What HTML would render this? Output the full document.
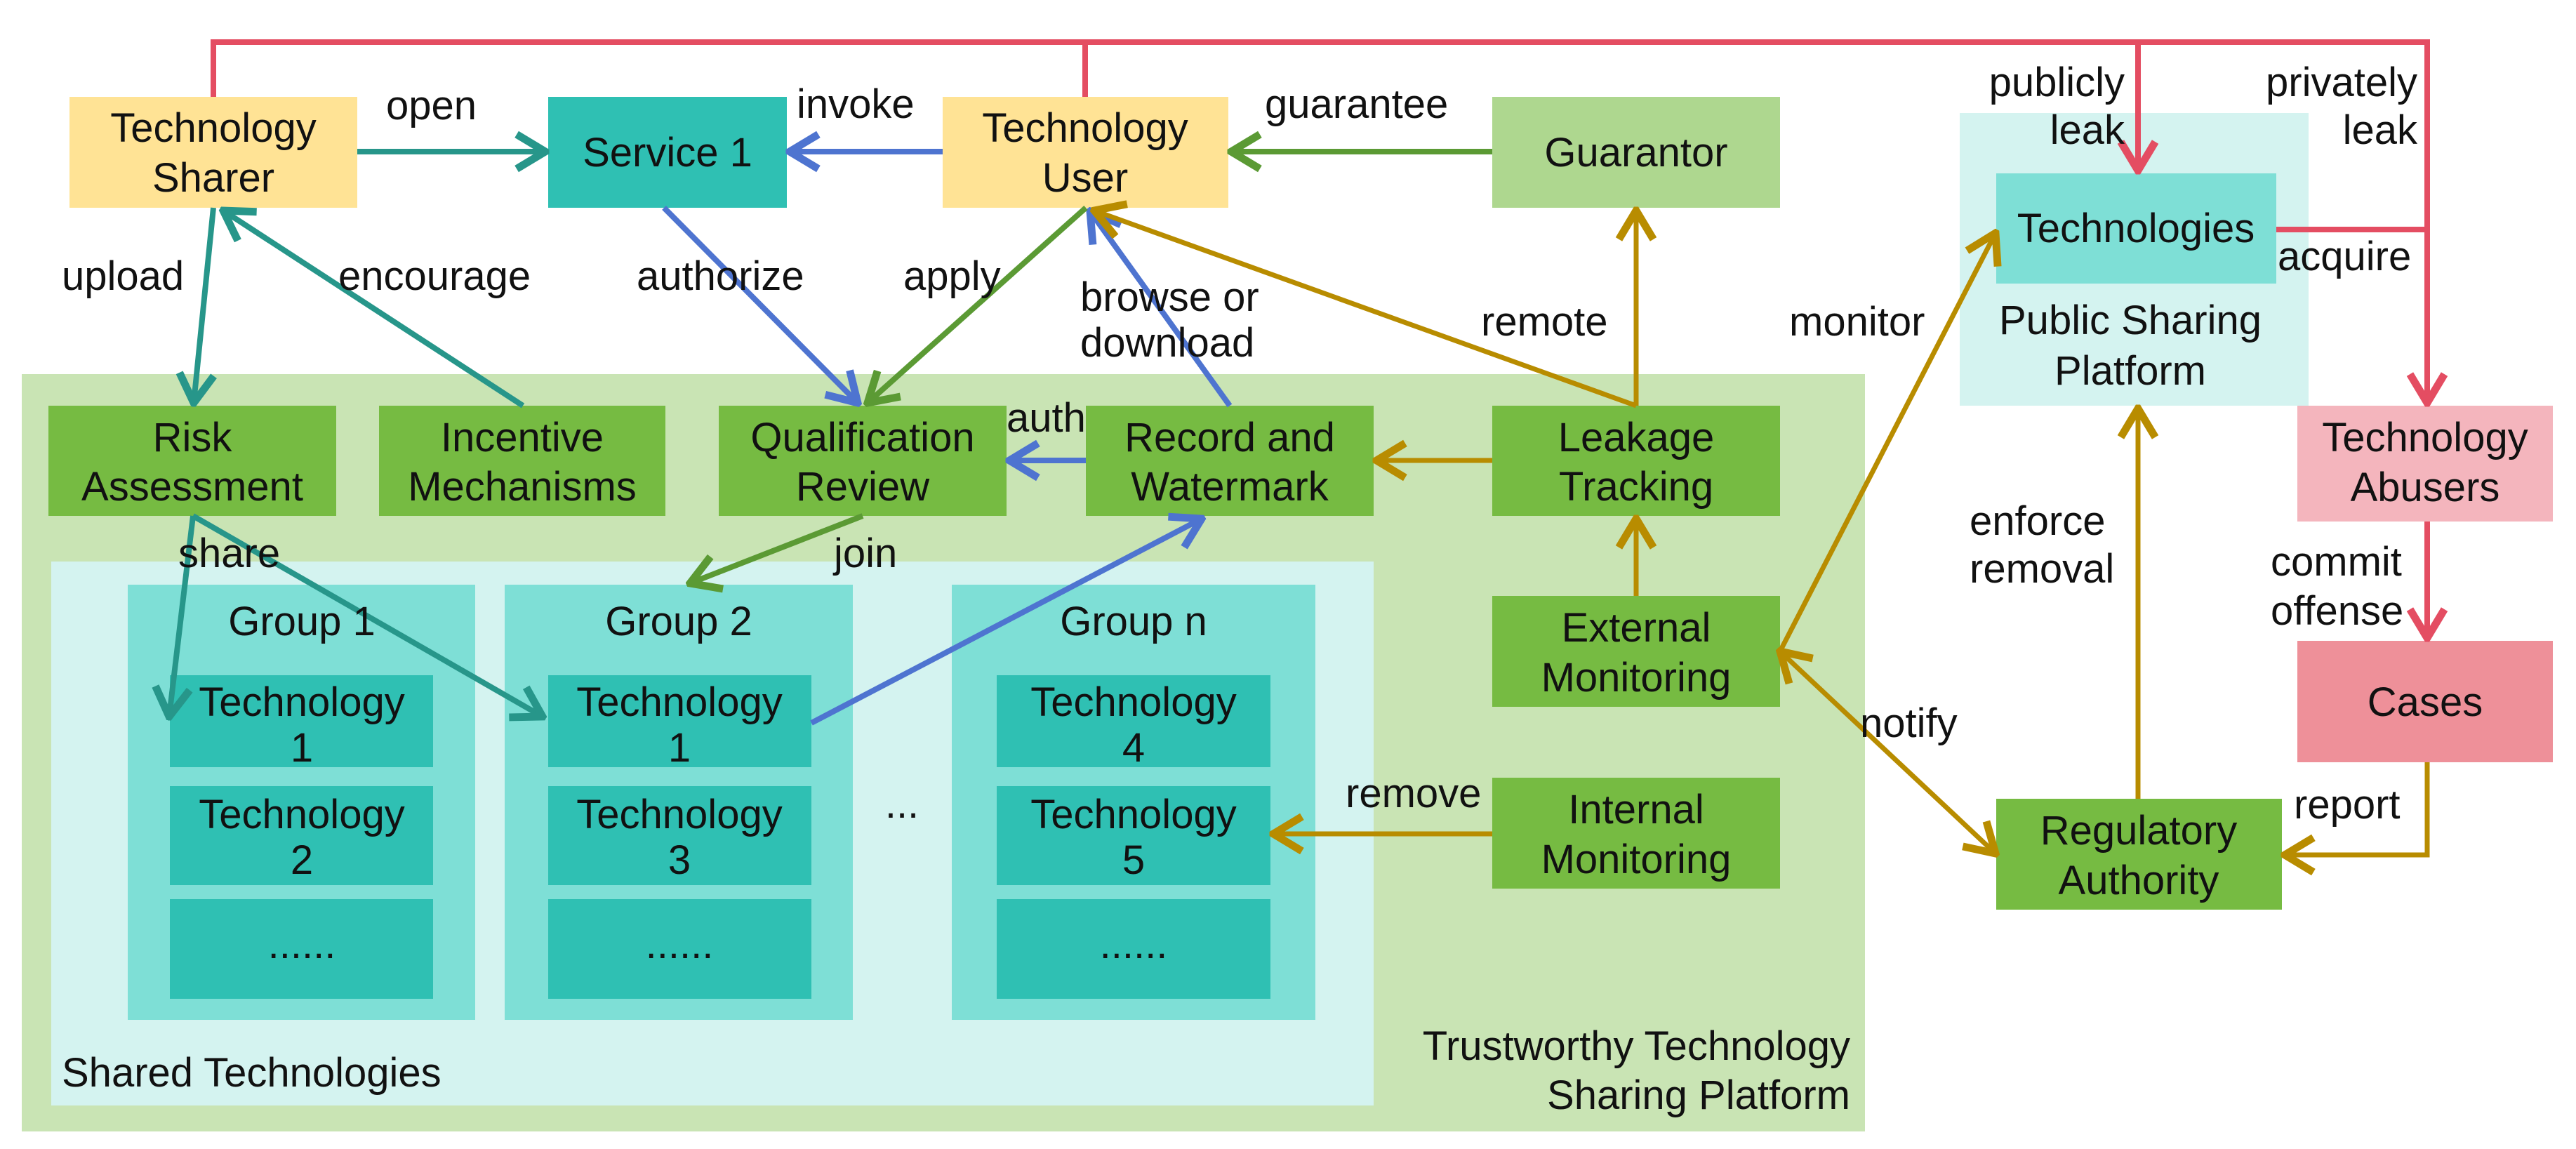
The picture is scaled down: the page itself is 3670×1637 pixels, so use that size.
<!DOCTYPE html>
<html><head><meta charset="utf-8"><style>
html,body{margin:0;padding:0;background:#fff;}
svg{display:block;}
text{font-family:"Liberation Sans",sans-serif;font-size:58px;fill:#111;}
.c{text-anchor:middle;}
.r{text-anchor:end;}
</style></head><body>
<svg width="3670" height="1637" viewBox="0 0 3670 1637" xmlns="http://www.w3.org/2000/svg">
<defs>
<marker id="aT" markerUnits="userSpaceOnUse" markerWidth="60" markerHeight="60" refX="40" refY="20" orient="auto-start-reverse" viewBox="0 0 44 40"><path d="M10,2 L40,20 L10,38" fill="none" stroke="#27968a" stroke-width="8"/></marker>
<marker id="aB" markerUnits="userSpaceOnUse" markerWidth="60" markerHeight="60" refX="40" refY="20" orient="auto-start-reverse" viewBox="0 0 44 40"><path d="M10,2 L40,20 L10,38" fill="none" stroke="#4e74d0" stroke-width="8"/></marker>
<marker id="aG" markerUnits="userSpaceOnUse" markerWidth="60" markerHeight="60" refX="40" refY="20" orient="auto-start-reverse" viewBox="0 0 44 40"><path d="M10,2 L40,20 L10,38" fill="none" stroke="#5b9a34" stroke-width="8"/></marker>
<marker id="aY" markerUnits="userSpaceOnUse" markerWidth="60" markerHeight="60" refX="40" refY="20" orient="auto-start-reverse" viewBox="0 0 44 40"><path d="M10,2 L40,20 L10,38" fill="none" stroke="#b88c00" stroke-width="8"/></marker>
<marker id="aR" markerUnits="userSpaceOnUse" markerWidth="60" markerHeight="60" refX="40" refY="20" orient="auto-start-reverse" viewBox="0 0 44 40"><path d="M10,2 L40,20 L10,38" fill="none" stroke="#e44d62" stroke-width="8"/></marker>
</defs>

<!-- platform backgrounds -->
<rect x="31" y="533" width="2626" height="1079" fill="#c9e4b4"/>
<rect x="73" y="800" width="1884" height="775" fill="#d4f3f0"/>
<rect x="2792" y="161" width="497" height="417" fill="#d4f3f0"/>

<!-- groups -->
<rect x="182" y="833" width="495" height="620" fill="#7edfd6"/>
<rect x="719" y="833" width="496" height="620" fill="#7edfd6"/>
<rect x="1356" y="833" width="518" height="620" fill="#7edfd6"/>
<g fill="#2fc0b3">
<rect x="242" y="962" width="375" height="131"/><rect x="242" y="1120" width="375" height="141"/><rect x="242" y="1281" width="375" height="142"/>
<rect x="781" y="962" width="375" height="131"/><rect x="781" y="1120" width="375" height="141"/><rect x="781" y="1281" width="375" height="142"/>
<rect x="1420" y="962" width="390" height="131"/><rect x="1420" y="1120" width="390" height="141"/><rect x="1420" y="1281" width="390" height="142"/>
</g>

<!-- top boxes -->
<rect x="99" y="138" width="410" height="158" fill="#ffe395"/>
<rect x="781" y="138" width="340" height="158" fill="#2fc0b3"/>
<rect x="1343" y="138" width="407" height="158" fill="#ffe395"/>
<rect x="2126" y="138" width="410" height="158" fill="#aed78f"/>
<!-- green row -->
<g fill="#76bb42">
<rect x="69" y="578" width="410" height="157"/>
<rect x="540" y="578" width="408" height="157"/>
<rect x="1024" y="578" width="410" height="157"/>
<rect x="1547" y="578" width="410" height="157"/>
<rect x="2126" y="578" width="410" height="157"/>
<rect x="2126" y="849" width="410" height="158"/>
<rect x="2126" y="1108" width="410" height="158"/>
<rect x="2844" y="1138" width="407" height="158"/>
</g>
<rect x="2844" y="247" width="399" height="157" fill="#7edfd6"/>
<rect x="3273" y="578" width="364" height="165" fill="#f4b5bd"/>
<rect x="3273" y="913" width="364" height="173" fill="#ee9099"/>

<!-- red lines -->
<g fill="none" stroke="#e44d62" stroke-width="8">
<polyline points="304,138 304,60 3458,60 3458,574" marker-end="url(#aR)"/>
<line x1="1546" y1="138" x2="1546" y2="60"/>
<line x1="3046" y1="60" x2="3046" y2="243" marker-end="url(#aR)"/>
<line x1="3243" y1="327" x2="3458" y2="327"/>
<line x1="3458" y1="743" x2="3458" y2="909" marker-end="url(#aR)"/>
</g>

<!-- teal -->
<g fill="none" stroke="#27968a" stroke-width="8">
<line x1="509" y1="216" x2="777" y2="216" marker-end="url(#aT)"/>
<line x1="304" y1="296" x2="276" y2="574" marker-end="url(#aT)"/>
<line x1="745" y1="578" x2="318" y2="300" marker-end="url(#aT)"/>
<line x1="275" y1="735" x2="241" y2="1021" marker-end="url(#aT)"/>
<line x1="275" y1="735" x2="773" y2="1021" marker-end="url(#aT)"/>
</g>
<!-- blue -->
<g fill="none" stroke="#4e74d0" stroke-width="8">
<line x1="1343" y1="216" x2="1125" y2="216" marker-end="url(#aB)"/>
<line x1="946" y1="296" x2="1222" y2="574" marker-end="url(#aB)"/>
<line x1="1752" y1="578" x2="1553" y2="301" marker-end="url(#aB)"/>
<line x1="1547" y1="656" x2="1438" y2="656" marker-end="url(#aB)"/>
<line x1="1156" y1="1030" x2="1712" y2="739" marker-end="url(#aB)"/>
</g>
<!-- green -->
<g fill="none" stroke="#5b9a34" stroke-width="8">
<line x1="2126" y1="216" x2="1754" y2="216" marker-end="url(#aG)"/>
<line x1="1547" y1="296" x2="1236" y2="574" marker-end="url(#aG)"/>
<line x1="1229" y1="735" x2="983" y2="831" marker-end="url(#aG)"/>
</g>
<!-- gold -->
<g fill="none" stroke="#b88c00" stroke-width="7">
<line x1="2331" y1="578" x2="1559" y2="300" marker-end="url(#aY)"/>
<line x1="2331" y1="578" x2="2331" y2="300" marker-end="url(#aY)"/>
<line x1="2126" y1="656" x2="1961" y2="656" marker-end="url(#aY)"/>
<line x1="2331" y1="849" x2="2331" y2="739" marker-end="url(#aY)"/>
<line x1="2126" y1="1188" x2="1814" y2="1188" marker-end="url(#aY)"/>
<line x1="2536" y1="928" x2="2843" y2="332" marker-end="url(#aY)"/>
<line x1="2536" y1="928" x2="2843" y2="1216" marker-start="url(#aY)" marker-end="url(#aY)"/>
<line x1="3046" y1="1138" x2="3046" y2="582" marker-end="url(#aY)"/>
<polyline points="3458,1086 3458,1218 3255,1218" marker-end="url(#aY)"/>
</g>

<!-- node labels -->
<text class="c" x="304" y="202">Technology</text><text class="c" x="304" y="273">Sharer</text>
<text class="c" x="951" y="237">Service 1</text>
<text class="c" x="1546" y="202">Technology</text><text class="c" x="1546" y="273">User</text>
<text class="c" x="2331" y="237">Guarantor</text>
<text class="c" x="274" y="643">Risk</text><text class="c" x="274" y="713">Assessment</text>
<text class="c" x="744" y="643">Incentive</text><text class="c" x="744" y="713">Mechanisms</text>
<text class="c" x="1229" y="643">Qualification</text><text class="c" x="1229" y="713">Review</text>
<text class="c" x="1752" y="643">Record and</text><text class="c" x="1752" y="713">Watermark</text>
<text class="c" x="2331" y="643">Leakage</text><text class="c" x="2331" y="713">Tracking</text>
<text class="c" x="2331" y="914">External</text><text class="c" x="2331" y="985">Monitoring</text>
<text class="c" x="2331" y="1173">Internal</text><text class="c" x="2331" y="1244">Monitoring</text>
<text class="c" x="3047" y="1203">Regulatory</text><text class="c" x="3047" y="1274">Authority</text>
<text class="c" x="3043" y="345">Technologies</text>
<text class="c" x="3035" y="476">Public Sharing</text><text class="c" x="3035" y="548">Platform</text>
<text class="c" x="3455" y="643">Technology</text><text class="c" x="3455" y="714">Abusers</text>
<text class="c" x="3455" y="1020">Cases</text>
<text class="c" x="430" y="905">Group 1</text>
<text class="c" x="967" y="905">Group 2</text>
<text class="c" x="1615" y="905">Group n</text>
<text class="c" x="430" y="1020">Technology</text><text class="c" x="430" y="1085">1</text>
<text class="c" x="430" y="1180">Technology</text><text class="c" x="430" y="1245">2</text>
<text class="c" x="430" y="1365">......</text>
<text class="c" x="968" y="1020">Technology</text><text class="c" x="968" y="1085">1</text>
<text class="c" x="968" y="1180">Technology</text><text class="c" x="968" y="1245">3</text>
<text class="c" x="968" y="1365">......</text>
<text class="c" x="1615" y="1020">Technology</text><text class="c" x="1615" y="1085">4</text>
<text class="c" x="1615" y="1180">Technology</text><text class="c" x="1615" y="1245">5</text>
<text class="c" x="1615" y="1365">......</text>
<text class="c" x="1285" y="1165">...</text>
<text x="88" y="1548">Shared Technologies</text>
<text class="r" x="2636" y="1510">Trustworthy Technology</text>
<text class="r" x="2636" y="1580">Sharing Platform</text>

<!-- edge labels -->
<text x="550" y="170">open</text>
<text x="1135" y="168">invoke</text>
<text x="1802" y="168">guarantee</text>
<text x="88" y="413">upload</text>
<text x="482" y="413">encourage</text>
<text x="907" y="413">authorize</text>
<text x="1287" y="413">apply</text>
<text x="1539" y="443">browse or</text>
<text x="1539" y="508">download</text>
<text x="1434" y="615">auth</text>
<text x="254" y="808">share</text>
<text x="1188" y="808">join</text>
<text x="2110" y="478">remote</text>
<text x="2549" y="478">monitor</text>
<text class="r" x="3027" y="137">publicly</text><text class="r" x="3027" y="205">leak</text>
<text class="r" x="3444" y="137">privately</text><text class="r" x="3444" y="205">leak</text>
<text x="3245" y="385">acquire</text>
<text x="2806" y="762">enforce</text><text x="2806" y="830">removal</text>
<text x="3235" y="820">commit</text><text x="3235" y="890">offense</text>
<text x="2650" y="1050">notify</text>
<text x="1917" y="1150">remove</text>
<text x="3268" y="1166">report</text>
</svg>
</body></html>
